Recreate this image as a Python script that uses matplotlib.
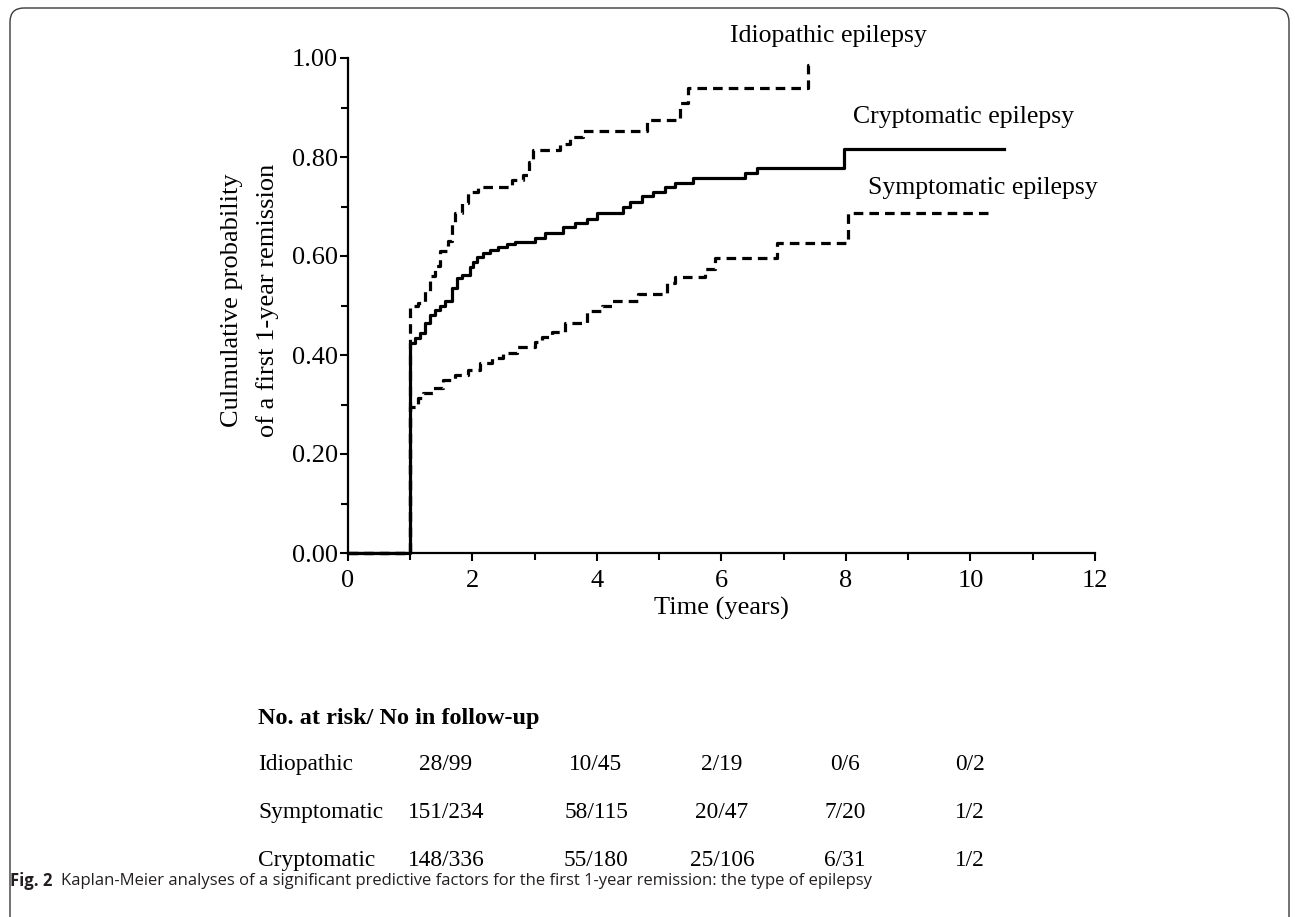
import matplotlib
matplotlib.use("Agg")
import matplotlib.pyplot as plt
from matplotlib.patches import FancyBboxPatch
from matplotlib.transforms import IdentityTransform

# ---------------- data ----------------
idio_t = [1.00, 1.12, 1.24, 1.32, 1.40, 1.48, 1.61, 1.67, 1.72, 1.83, 1.93, 2.09,
          2.63, 2.81, 2.90, 2.97, 3.41, 3.57, 3.78, 4.80, 5.33, 5.46, 7.39]
idio_p = [0.500, 0.505, 0.530, 0.560, 0.580, 0.610, 0.630, 0.667, 0.687, 0.707, 0.730, 0.740,
          0.753, 0.763, 0.790, 0.814, 0.826, 0.840, 0.853, 0.875, 0.910, 0.940, 0.985]
idio_end = 7.42

cryp_t = [1.00, 1.08, 1.16, 1.24, 1.32, 1.40, 1.48, 1.56, 1.67, 1.75, 1.83, 1.96, 2.01,
          2.07, 2.17, 2.28, 2.41, 2.55, 2.68, 3.00, 3.16, 3.45, 3.65, 3.84, 4.00, 4.42,
          4.53, 4.72, 4.90, 5.09, 5.25, 5.54, 6.38, 6.57, 7.97]
cryp_p = [0.424, 0.434, 0.444, 0.465, 0.480, 0.490, 0.500, 0.510, 0.535, 0.555, 0.562, 0.578,
          0.588, 0.598, 0.606, 0.612, 0.618, 0.624, 0.628, 0.636, 0.646, 0.659, 0.667, 0.675,
          0.687, 0.699, 0.709, 0.721, 0.730, 0.739, 0.747, 0.758, 0.768, 0.778, 0.816]
cryp_end = 10.54

symp_t = [1.00, 1.12, 1.20, 1.37, 1.53, 1.72, 1.93, 2.12, 2.31, 2.49, 2.71, 3.00, 3.12,
          3.28, 3.49, 3.84, 4.08, 4.24, 4.66, 5.12, 5.25, 5.73, 5.90, 6.89, 8.03]
symp_p = [0.295, 0.313, 0.323, 0.333, 0.350, 0.360, 0.370, 0.384, 0.394, 0.404, 0.416, 0.426,
          0.436, 0.446, 0.465, 0.489, 0.499, 0.509, 0.523, 0.545, 0.558, 0.574, 0.596, 0.626,
          0.687]
symp_end = 10.28

x_ticks = [0, 2, 4, 6, 8, 10, 12]
y_ticks = [0.0, 0.2, 0.4, 0.6, 0.8, 1.0]
y_ticklabels = ["0.00", "0.20", "0.40", "0.60", "0.80", "1.00"]

curve_labels = ["Idiopathic epilepsy", "Cryptomatic epilepsy", "Symptomatic epilepsy"]

table_header = "No. at risk/ No in follow-up"
table_rows = ["Idiopathic", "Symptomatic", "Cryptomatic"]
table_vals = [
    ["28/99", "10/45", "2/19", "0/6", "0/2"],
    ["151/234", "58/115", "20/47", "7/20", "1/2"],
    ["148/336", "55/180", "25/106", "6/31", "1/2"],
]
caption_bold = "Fig. 2"
caption_text = "Kaplan-Meier analyses of a significant predictive factors for the first 1-year remission: the type of epilepsy"

# ---------------- figure ----------------
W, H = 1295, 917
fig = plt.figure(figsize=(W / 100, H / 100), dpi=100)
fig.patch.set_facecolor("white")

def fx(px):
    return px / W

def fy(py):
    return 1 - py / H

serif = ["Liberation Serif", "DejaVu Serif"]

ax = fig.add_axes([fx(348), fy(553), fx(1095) - fx(348), fy(58) - fy(553)])
ax.set_xlim(0, 12)
ax.set_ylim(0, 1.0)
for s in ["top", "right"]:
    ax.spines[s].set_visible(False)
for s in ["left", "bottom"]:
    ax.spines[s].set_linewidth(1.6)

lw = 2.3
dash = (0, (3.0, 1.9))

def series(t, p, end):
    xs = [0.0] + list(t) + [end]
    ys = [0.0] + list(p) + [p[-1]]
    return xs, ys

xs, ys = series(symp_t, symp_p, symp_end)
ax.step(xs, ys, where="post", color="black", lw=lw, linestyle=dash, clip_on=False)
xs, ys = series(idio_t, idio_p, idio_end)
ax.step(xs, ys, where="post", color="black", lw=lw, linestyle=dash, clip_on=False)
xs, ys = series(cryp_t, cryp_p, cryp_end)
ax.step(xs, ys, where="post", color="black", lw=lw, linestyle="-", clip_on=False)

ax.set_xticks(x_ticks)
ax.set_xticklabels([str(v) for v in x_ticks])
ax.set_xticks([1, 3, 5, 7, 9, 11], minor=True)
ax.set_yticks(y_ticks)
ax.set_yticklabels(y_ticklabels)
ax.set_yticks([0.1, 0.3, 0.5, 0.7, 0.9], minor=True)
ax.tick_params(which="both", direction="out", width=1.5, color="black")
ax.tick_params(which="major", length=6)
ax.tick_params(which="minor", length=5)
ax.tick_params(axis="y", pad=1)
ax.tick_params(axis="x", pad=6)
for lab in ax.get_xticklabels() + ax.get_yticklabels():
    lab.set_family(serif)
    lab.set_fontsize(19)

fig.text(fx(232), fy(300), "Culmulative probability", rotation=90, ha="center", va="center",
         family=serif, fontsize=19)
fig.text(fx(268), fy(300), "of a first 1-year remission", rotation=90, ha="center", va="center",
         family=serif, fontsize=19)
fig.text(fx(721), fy(608), "Time (years)", ha="center", va="center", family=serif, fontsize=19)

# curve labels
fig.text(fx(730), fy(42), curve_labels[0], ha="left", va="baseline", family=serif, fontsize=18.5)
fig.text(fx(853), fy(123), curve_labels[1], ha="left", va="baseline", family=serif, fontsize=18.5)
fig.text(fx(868), fy(194), curve_labels[2], ha="left", va="baseline", family=serif, fontsize=18.5)

# risk table
fig.text(fx(258), fy(724), table_header, ha="left", va="baseline", family=serif,
         fontsize=17.5, fontweight="bold")
row_y = [770, 818, 866]
col_x = [446, 596, 722, 845, 970]
for name, vals, yy in zip(table_rows, table_vals, row_y):
    fig.text(fx(258), fy(yy), name, ha="left", va="baseline", family=serif, fontsize=16.8)
    for v, xx in zip(vals, col_x):
        fig.text(fx(xx), fy(yy), v, ha="center", va="baseline", family=serif, fontsize=16.8)

# caption
sans = ["Open Sans", "DejaVu Sans"]
t1 = fig.text(fx(10), fy(881), caption_bold, ha="left", va="center", family=sans,
              fontsize=12, fontweight="bold", color="#231f20")
fig.canvas.draw()
r = fig.canvas.get_renderer()
bb = t1.get_window_extent(r)
t2 = fig.text(fx(bb.x1 + 9), fy(881), caption_text, ha="left", va="center", family=sans,
              fontsize=12, color="#231f20")
fig.canvas.draw()
bb2 = t2.get_window_extent(r)
target = 878
scale = (target - bb.x1 - 9) / bb2.width
if abs(scale - 1) > 0.02:
    t1.set_fontsize(12 * scale)
    t2.set_fontsize(12 * scale)
    fig.canvas.draw()
    bb = t1.get_window_extent(r)
    t2.set_position((fx(bb.x1 + 8), fy(881)))

# border
border = FancyBboxPatch((10, -60), 1279, 969, boxstyle="round,pad=0,rounding_size=14",
                        transform=IdentityTransform(), facecolor="none", edgecolor="#3a3a3a",
                        linewidth=1.0, figure=fig)
fig.patches.append(border)

fig.savefig("out.png", dpi=100, facecolor="white")
